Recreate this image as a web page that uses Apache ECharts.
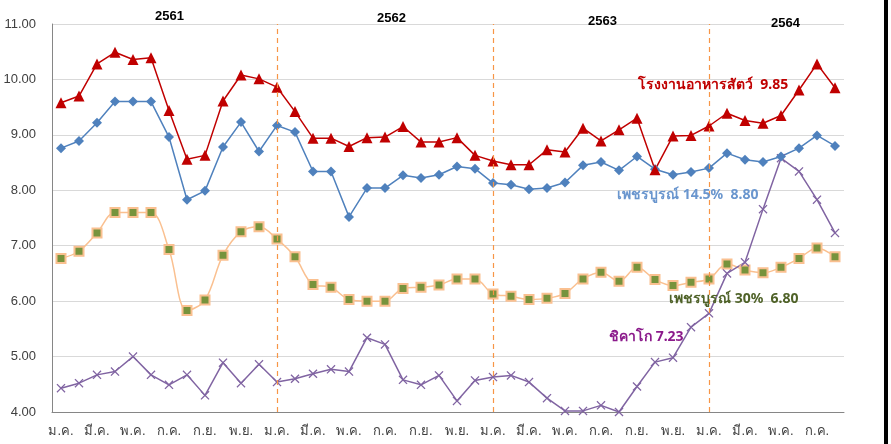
<!DOCTYPE html>
<html>
<head>
<meta charset="utf-8">
<script src="https://cdn.jsdelivr.net/npm/echarts@6/dist/echarts.min.js"></script>
<style>
  html, body { margin: 0; padding: 0; background: #fff; }
  #grafiek { width: 891px; height: 444px; }
</style>
</head>
<body>
<div id="grafiek"></div>
<script>
// maanden: 2561 t/m ส.ค. 2564
const maanden = ['ม.ค.', 'ก.พ.', 'มี.ค.', 'เม.ย.', 'พ.ค.', 'มิ.ย.', 'ก.ค.', 'ส.ค.', 'ก.ย.', 'ต.ค.', 'พ.ย.', 'ธ.ค.'];
const categorieen = [];
for (let j = 0; j < 4; j++) {
    maanden.forEach(m => { if (categorieen.length < 44) categorieen.push(m); });
}

const jaren = ['2561', '2562', '2563', '2564'];

// โรงงานอาหารสัตว์
const fabriek = [9.58, 9.70, 10.28, 10.49, 10.36, 10.39, 9.44, 8.56, 8.63, 9.61, 10.08, 10.01,
    9.86, 9.42, 8.94, 8.94, 8.79, 8.95, 8.96, 9.15, 8.87, 8.87, 8.95, 8.63,
    8.53, 8.46, 8.46, 8.73, 8.69, 9.12, 8.89, 9.09, 9.30, 8.37, 8.98, 8.99,
    9.16, 9.39, 9.26, 9.21, 9.35, 9.81, 10.28, 9.85];

// เพชรบูรณ์ 14.5%
const petchabun145 = [8.76, 8.89, 9.22, 9.60, 9.60, 9.60, 8.96, 7.83, 7.99, 8.78, 9.23, 8.70,
    9.17, 9.05, 8.34, 8.34, 7.52, 8.04, 8.04, 8.27, 8.22, 8.28, 8.43, 8.39,
    8.13, 8.10, 8.02, 8.04, 8.14, 8.45, 8.51, 8.36, 8.61, 8.38, 8.28, 8.33,
    8.40, 8.67, 8.55, 8.51, 8.61, 8.76, 8.99, 8.80];

// เพชรบูรณ์ 30%
const petchabun30 = [6.77, 6.90, 7.23, 7.60, 7.60, 7.60, 6.93, 5.83, 6.02, 6.83, 7.25, 7.34,
    7.12, 6.80, 6.30, 6.25, 6.03, 6.00, 6.00, 6.23, 6.25, 6.29, 6.40, 6.40,
    6.13, 6.09, 6.03, 6.05, 6.14, 6.40, 6.52, 6.36, 6.61, 6.39, 6.28, 6.34,
    6.40, 6.67, 6.56, 6.51, 6.61, 6.77, 6.96, 6.80];

// ชิคาโก
const chicago = [4.43, 4.52, 4.67, 4.73, 5.00, 4.67, 4.49, 4.67, 4.30, 4.89, 4.52, 4.86,
    4.54, 4.60, 4.69, 4.77, 4.73, 5.34, 5.22, 4.58, 4.49, 4.66, 4.20, 4.57,
    4.63, 4.66, 4.54, 4.25, 4.02, 4.02, 4.12, 4.00, 4.46, 4.90, 4.98, 5.53,
    5.78, 6.50, 6.70, 7.66, 8.58, 8.34, 7.83, 7.23];

const kruis = 'path://M0,1L1,0L5,4L9,0L10,1L6,5L10,9L9,10L5,6L1,10L0,9L4,5Z';

function toonGrafiek() {
    let grafiek = echarts.init(document.getElementById('grafiek'));
    let jaarX = [155, 377, 588, 771];
    let jaarY = [10, 12, 15, 17];
    let jaarTeksten = jaren.map((j, i) => ({
        type: 'text', left: jaarX[i], top: jaarY[i], z: 10,
        style: { text: j, fontSize: 13, fontWeight: 'bold', fill: '#000', fontFamily: 'Liberation Sans' }
    }));
    let option = {
        backgroundColor: '#fff',
        animation: false,
        textStyle: { fontFamily: 'Liberation Sans, Noto Sans, sans-serif' },
        grid: { left: 52, right: 47, top: 24, bottom: 32 },
        xAxis: {
            type: 'category',
            data: categorieen,
            boundaryGap: true,
            axisLine: { lineStyle: { color: '#868686' } },
            axisTick: { show: false },
            axisLabel: { interval: 1, margin: 13, fontSize: 13, color: '#404040' }
        },
        yAxis: {
            type: 'value',
            min: 4, max: 11, interval: 1,
            axisLine: { show: true, lineStyle: { color: '#868686' } },
            axisTick: { show: false },
            splitLine: { lineStyle: { color: '#D9D9D9' } },
            axisLabel: { formatter: v => v.toFixed(2), fontSize: 13, color: '#404040', margin: 16 }
        },
        graphic: jaarTeksten.concat([
            { type: 'text', left: 638, top: 78, z: 10, style: { text: 'โรงงานอาหารสัตว์  9.85', fontSize: 14, fontWeight: 'bold', fill: '#C00000', fontFamily: 'Noto Sans' } },
            { type: 'text', left: 617, top: 188, z: 10, style: { text: 'เพชรบูรณ์ 14.5%  8.80', fontSize: 14, fontWeight: 'bold', fill: '#6A96CE', fontFamily: 'Noto Sans' } },
            { type: 'text', left: 669, top: 292, z: 10, style: { text: 'เพชรบูรณ์ 30%  6.80', fontSize: 14, fontWeight: 'bold', fill: '#4F6228', fontFamily: 'Noto Sans' } },
            { type: 'text', left: 609, top: 330, z: 10, style: { text: 'ชิคาโก 7.23', fontSize: 14, fontWeight: 'bold', fill: '#8B1A8B', fontFamily: 'Noto Sans' } },
            { type: 'rect', left: 884, top: 0, shape: { width: 4, height: 444 }, style: { fill: '#000' } }
        ]),
        series: [
            {
                name: 'เพชรบูรณ์ 30%',
                type: 'line',
                data: petchabun30,
                smooth: 0.35,
                symbol: 'rect',
                symbolSize: 9,
                lineStyle: { color: '#FAC090', width: 1.5 },
                itemStyle: { color: '#77933C', borderColor: '#FAC090', borderWidth: 2 },
                markLine: {
                    silent: true,
                    symbol: 'none',
                    label: { show: false },
                    lineStyle: { color: '#F79646', type: [5, 4], width: 1.2 },
                    data: [{ xAxis: 12 }, { xAxis: 24 }, { xAxis: 36 }]
                }
            },
            {
                name: 'ชิคาโก',
                type: 'line',
                data: chicago,
                symbol: kruis,
                symbolSize: 9,
                lineStyle: { color: '#8064A2', width: 1.5 },
                itemStyle: { color: '#8064A2' }
            },
            {
                name: 'เพชรบูรณ์ 14.5%',
                type: 'line',
                data: petchabun145,
                symbol: 'diamond',
                symbolSize: 10,
                lineStyle: { color: '#4F81BD', width: 1.5 },
                itemStyle: { color: '#4F81BD' }
            },
            {
                name: 'โรงงานอาหารสัตว์',
                type: 'line',
                data: fabriek,
                symbol: 'triangle',
                symbolSize: 11,
                lineStyle: { color: '#C00000', width: 1.5 },
                itemStyle: { color: '#C00000' }
            }
        ]
    };
    grafiek.setOption(option);
}

window.onload = function () {
    toonGrafiek();
};
</script>
</body>
</html>
